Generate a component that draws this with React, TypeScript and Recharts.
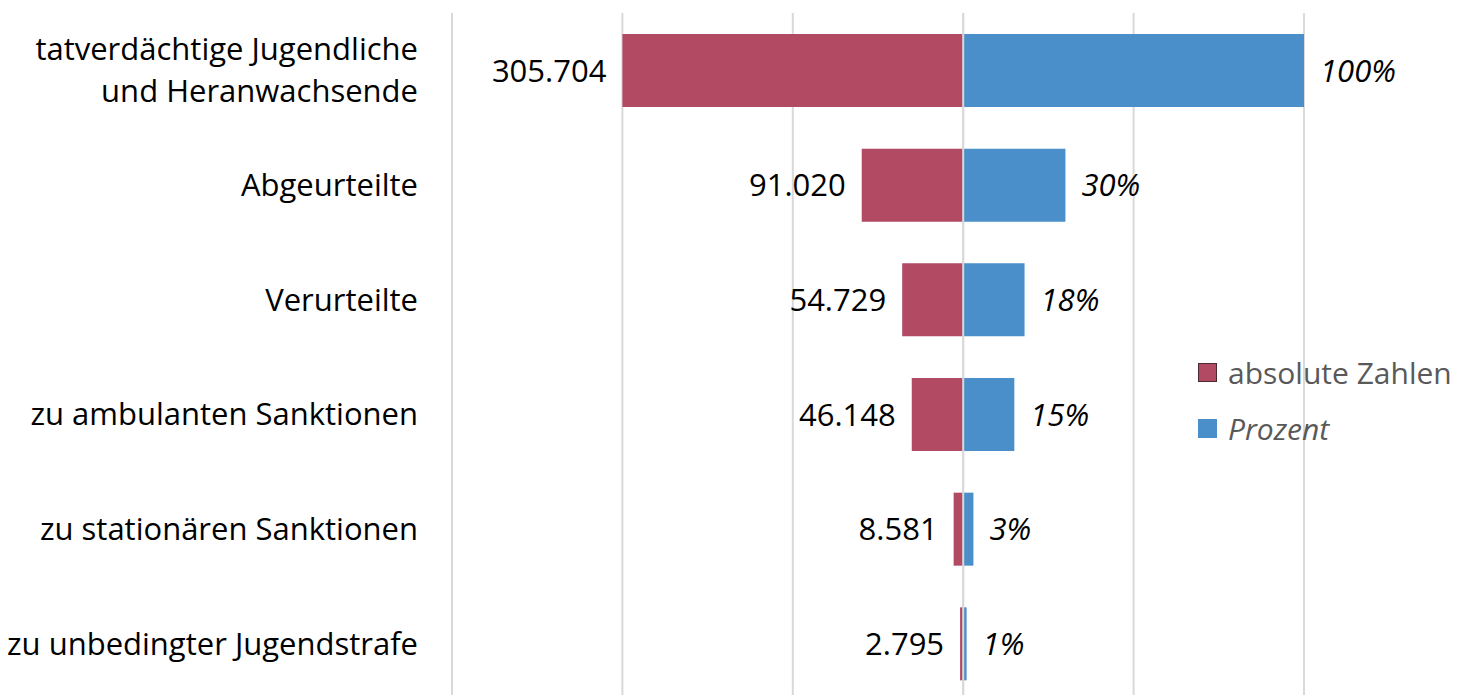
import { BarChart, Bar, XAxis, YAxis, CartesianGrid, LabelList, ReferenceLine } from "recharts"

const categories = [
  "tatverdächtige Jugendliche\nund Heranwachsende",
  "Abgeurteilte",
  "Verurteilte",
  "zu ambulanten Sanktionen",
  "zu stationären Sanktionen",
  "zu unbedingter Jugendstrafe",
]
const absolute = [305704, 91020, 54729, 46148, 8581, 2795]
const percent = [100, 30, 18, 15, 3, 1]
const xTicks = [-150, -100, -50, 0, 50, 100]

const RED = "#B24A63"
const BLUE = "#4A8FC9"
const FONT = "'Open Sans', sans-serif"

// red bars are drawn as share of the first row, to the left
const data = categories.map((name, i) => ({
  name,
  abs: absolute[i],
  pct: percent[i],
  absBar: -(absolute[i] / absolute[0]) * 100,
}))

const fmt = (n: number) => String(n).replace(/\B(?=(\d{3})+(?!\d))/g, ".")

const box = (p: any) => {
  const v = p.viewBox && p.viewBox.width !== undefined ? p.viewBox : p
  return { x: Number(v.x), y: Number(v.y), w: Number(v.width), h: Number(v.height) }
}

const RedLabel = (props: any) => {
  const { x, y, w, h } = box(props)
  const left = Math.min(x, x + w)
  return (
    <text x={left - 16} y={y + h / 2} dy={11} textAnchor="end" fontSize={31} fontFamily={FONT} fill="#000">
      {fmt(props.value)}
    </text>
  )
}

const BlueLabel = (props: any) => {
  const { x, y, w, h } = box(props)
  const right = Math.max(x, x + w)
  return (
    <text x={right + 16} y={y + h / 2} dy={11} textAnchor="start" fontSize={31} fontStyle="italic" fontFamily={FONT} fill="#000">
      {props.value}%
    </text>
  )
}

const CategoryTick = ({ y, payload }: any) => {
  const lines = String(payload.value).split("\n")
  const lh = 42
  const start = y - ((lines.length - 1) * lh) / 2
  return (
    <text textAnchor="end" fontSize={31} fontFamily={FONT} fill="#000">
      {lines.map((l, i) => (
        <tspan key={i} x={418} y={start + i * lh} dy={11}>
          {l}
        </tspan>
      ))}
    </text>
  )
}

const legendItems = [
  { label: "absolute Zahlen", color: RED, italic: false },
  { label: "Prozent", color: BLUE, italic: true },
]

const LegendBox = () => (
  <div style={{ position: "absolute", left: 1198, top: 344, fontFamily: FONT, fontSize: 30, color: "#595959" }}>
    {legendItems.map((it) => (
      <div key={it.label} style={{ display: "flex", alignItems: "center", height: 56, whiteSpace: "nowrap" }}>
        <span
          style={{
            width: 19,
            height: 19,
            background: it.color,
            marginRight: 11,
            boxSizing: "border-box",
            border: it.italic ? "none" : "1px solid #4a2a30",
          }}
        />
        <span style={{ fontStyle: it.italic ? "italic" : "normal" }}>{it.label}</span>
      </div>
    ))}
  </div>
)

export default function App() {
  return (
    <div style={{ position: "absolute", left: 0, top: 0, width: 1459, height: 695, overflow: "hidden", background: "#fff" }}>
      <BarChart
        width={1459}
        height={710}
        data={data}
        layout="vertical"
        stackOffset="sign"
        margin={{ top: 13, right: 155, left: 0, bottom: 9 }}
      >
        <CartesianGrid horizontal={false} stroke="#d9d9d9" strokeWidth={2} />
        <XAxis type="number" domain={[-150, 100]} ticks={xTicks} hide />
        <YAxis
          type="category"
          dataKey="name"
          width={452}
          axisLine={false}
          tickLine={false}
          tick={<CategoryTick />}
          interval={0}
        />
        <Bar dataKey="absBar" name="absolute Zahlen" stackId="a" fill={RED} barSize={73} isAnimationActive={false}>
          <LabelList dataKey="abs" content={<RedLabel />} />
        </Bar>
        <Bar dataKey="pct" name="Prozent" stackId="a" fill={BLUE} barSize={73} isAnimationActive={false}>
          <LabelList dataKey="pct" content={<BlueLabel />} />
        </Bar>
        <ReferenceLine x={0} stroke="#d9d9d9" strokeWidth={2} />
      </BarChart>
      <LegendBox />
    </div>
  )
}
